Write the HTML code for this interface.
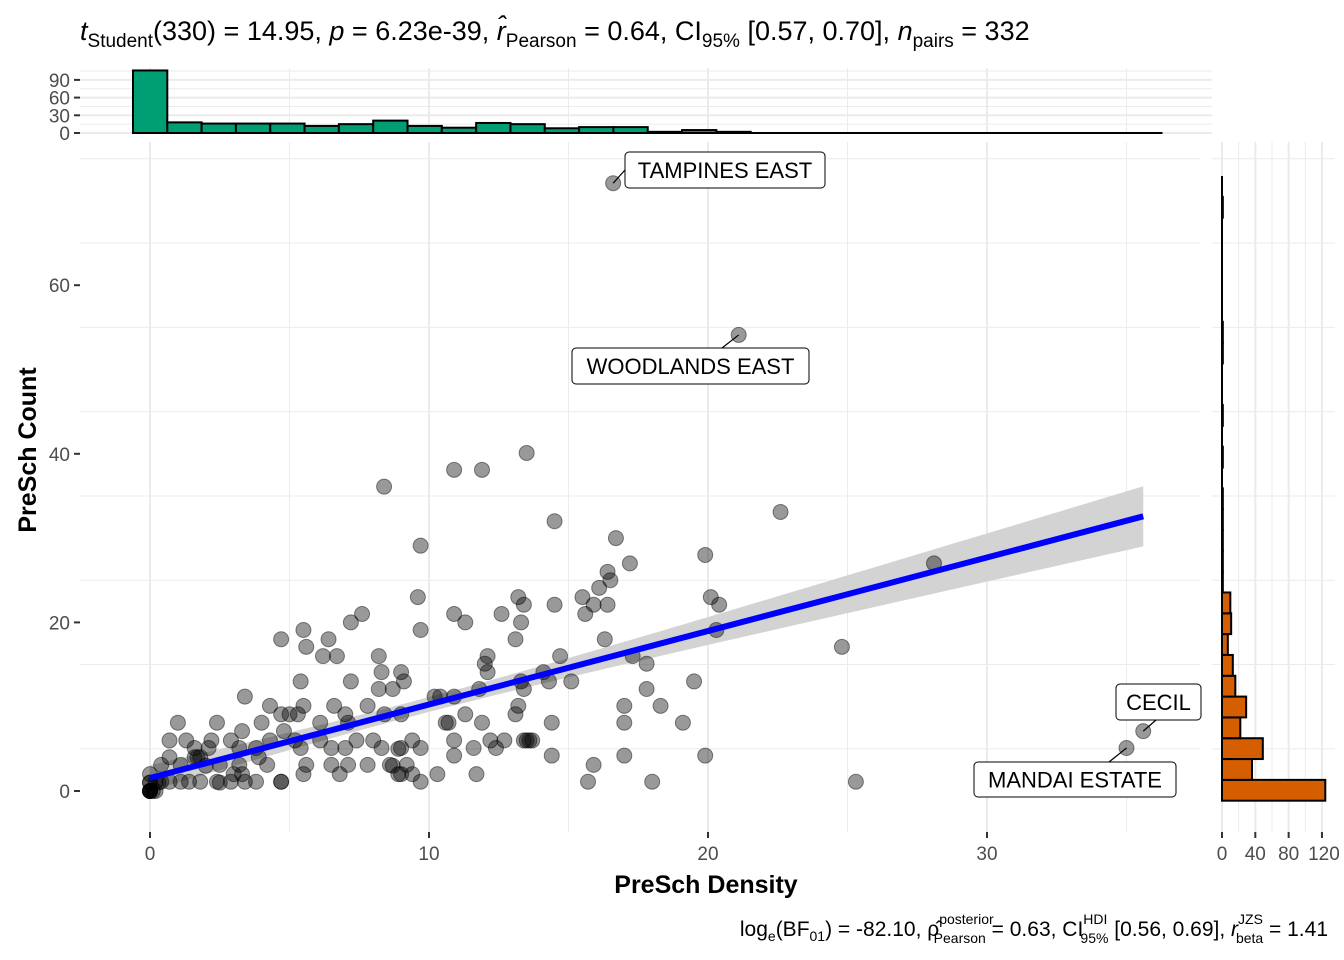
<!DOCTYPE html>
<html><head><meta charset="utf-8">
<style>
body{margin:0;background:#fff;}
svg{display:block;font-family:"Liberation Sans",sans-serif;}
</style></head>
<body>
<svg id="chart" width="1344" height="960" xmlns="http://www.w3.org/2000/svg">
<text x="80" y="40" font-size="27" fill="#000"><tspan font-style="italic">t</tspan><tspan font-size="19" dy="7">Student</tspan><tspan dy="-7">(330) = 14.95, </tspan><tspan font-style="italic">p</tspan><tspan> = 6.23e-39, </tspan><tspan font-style="italic">r̂</tspan><tspan font-size="19" dy="7">Pearson</tspan><tspan dy="-7"> = 0.64, CI</tspan><tspan font-size="19" dy="7">95%</tspan><tspan dy="-7"> [0.57, 0.70], </tspan><tspan font-style="italic">n</tspan><tspan font-size="19" dy="7">pairs</tspan><tspan dy="-7"> = 332</tspan></text>
<g id="grid"></g>
<g id="band"></g>
<g id="pts"></g>
<g id="topHist"></g>
<g id="rightHist"></g>
<g id="axes"></g>
<g id="labels"></g>
<text x="706" y="893" font-size="25" font-weight="bold" text-anchor="middle">PreSch Density</text>
<text transform="translate(36,450) rotate(-90)" font-size="25" font-weight="bold" text-anchor="middle">PreSch Count</text>
<text x="1328" y="936" font-size="21" text-anchor="end">log<tspan font-size="14" dy="5">e</tspan><tspan dy="-5">(BF</tspan><tspan font-size="14" dy="5">01</tspan><tspan dy="-5">) = -82.10, ρ̂</tspan><tspan font-size="14" dy="-12">posterior</tspan><tspan font-size="14" dx="-60" dy="19">Pearson</tspan><tspan dy="-7"> = 0.63, CI</tspan><tspan font-size="14" dy="-12">HDI</tspan><tspan font-size="14" dx="-27" dy="19">95%</tspan><tspan dy="-7"> [0.56, 0.69], </tspan><tspan font-style="italic">r</tspan><tspan font-size="14" dy="-12">JZS</tspan><tspan font-size="14" dx="-27" dy="19">beta</tspan><tspan dy="-7"> = 1.41</tspan></text>
</svg>
<script>
const xs = [8.39,10.9,11.9,13.5,9.7,14.5,16.7,17.2,16.4,16.5,16.1,15.5,15.9,16.4,15.6,14.5,13.2,13.4,12.6,13.3,13.1,19.9,20.1,20.4,20.3,22.6,28.1,24.8,25.3,9.6,9.7,10.9,11.3,7.6,7.2,4.7,5.5,5.6,6.4,6.2,6.7,8.2,8.3,9.0,9.1,7.2,5.4,8.2,8.7,12.0,12.1,12.1,11.8,13.4,13.3,14.7,14.1,14.3,15.1,16.3,17.3,17.8,17.8,18.3,17.0,17.0,19.1,19.5,19.9,18.0,17.0,15.9,15.7,14.4,14.4,13.7,13.5,3.4,4.3,4.7,5.0,5.3,5.5,6.1,6.6,7.0,7.1,7.8,8.4,9.0,10.2,10.4,10.9,11.3,11.9,13.1,13.2,12.7,12.2,12.4,11.6,10.9,10.6,10.7,1.0,2.4,3.3,4.0,0.7,1.3,1.6,2.1,2.2,2.9,3.2,3.8,4.3,4.8,5.2,0.4,0.7,1.1,1.7,2.5,3.2,3.9,4.2,0.2,0.4,0.7,1.1,1.4,1.8,2.4,2.9,3.4,3.8,4.7,5.4,6.1,6.5,7.0,7.4,8.0,8.3,9.0,9.4,9.7,5.6,6.5,7.1,7.8,8.6,9.0,9.2,9.4,9.7,10.3,10.9,11.7,5.5,4.7,6.8,0,0,0,0,0,0,0,0.1,0.2,0,0.3,1.6,1.8,2.0,3.3,8.7,8.9,13.4,13.6,8.9,2.5,3.0,35.0,35.6,21.1,16.6];
const ys = [36.1,38.1,38.1,40.1,29.1,32.0,30.0,27.0,26.0,25.0,24.1,23.0,22.1,22.1,21.0,22.1,23.0,22.1,21.0,20.0,18.0,28.0,23.0,22.1,19.1,33.1,27.0,17.1,1.1,23.0,19.1,21.0,20.0,21.0,20.0,18.0,19.1,17.1,18.0,16.0,16.0,16.0,14.1,14.1,13.0,13.0,13.0,12.1,12.1,15.1,16.0,14.1,12.1,12.1,13.0,16.0,14.1,13.0,13.0,18.0,16.0,15.1,12.1,10.1,10.1,8.1,8.1,13.0,4.2,1.1,4.2,3.1,1.1,4.2,8.1,6.0,6.0,11.2,10.1,9.1,9.1,9.1,10.1,8.1,10.1,9.1,8.1,10.1,9.1,9.1,11.2,11.2,11.2,9.1,8.1,9.1,10.1,6.0,6.0,5.1,5.1,6.0,8.1,8.1,8.1,8.1,7.1,8.1,6.0,6.0,5.1,5.1,6.0,6.0,5.1,5.1,6.0,7.1,6.0,3.1,4.0,3.1,4.0,3.1,3.1,4.0,3.1,1.1,1.1,1.1,1.1,1.1,1.1,1.1,1.1,1.1,1.1,1.1,5.1,6.0,5.1,5.1,6.0,6.0,5.1,5.1,6.0,5.1,3.1,3.1,3.1,3.1,3.1,2.0,3.1,2.0,1.1,2.0,4.2,2.0,2.0,1.1,2.0,0,0,0,0,0,1,1,0,0,2,1,4,4,3,2,3,5,6,6,2,1,2,5.1,7.1,54.1,72.1];
const fitCoef = [1.54, 0.872];
const topBinStart = -0.61, topBinWidth = 1.23;
const topCounts = [106,18,16,16,16,12,15,21,12,9,17,15,8,10,10,2,5,2,0,0,0,0,0,0,0,0,0,0,0,0];
const rightBinStart = -1.15, rightBinWidth = 2.47;
const rightCounts = [124,36,49,22,29,16,13,7,11,10,1,1,1,1,1,0,1,0,1,0,0,1,1,0,0,0,0,0,1,0];
const xTicks = [0,10,20,30];
const yTicks = [0,20,40,60];
const topTicks = [0,30,60,90];
const rightTicks = [0,40,80,120];
const labelNames = ["MANDAI ESTATE","CECIL","WOODLANDS EAST","TAMPINES EAST"];

const NS="http://www.w3.org/2000/svg";
const X = v => 150 + v*27.9;
const Y = v => 791 - v*8.43;
const TY = v => 133 - v*0.59;
const RX = v => 1222 + v*0.833;
function mk(tag, attrs, parent){const e=document.createElementNS(NS,tag);for(const k in attrs)e.setAttribute(k,attrs[k]);parent.appendChild(e);return e;}
const grid=document.getElementById('grid'), band=document.getElementById('band'), pts=document.getElementById('pts'), th=document.getElementById('topHist'), rh=document.getElementById('rightHist'), axes=document.getElementById('axes'), labels=document.getElementById('labels');

for(let v=-5; v<=37; v+=5){const x=X(v); if(x<80||x>1200) continue;
  const l=mk('line',{x1:x,x2:x,y1:142,y2:832,stroke:'#ebebeb','stroke-width':v%10===0?2:1},grid);
  
  }
for(let v=-5; v<=75; v+=10){const y=Y(v); if(y<142||y>832) continue;
  const l=mk('line',{x1:80,x2:1200,y1:y,y2:y,stroke:'#ebebeb','stroke-width':v%20===0?2:1},grid);
  
  }
for(let v=-5; v<=37; v+=5){const x=X(v); if(x<100||x>1212) continue;
  const l=mk('line',{x1:x,x2:x,y1:68,y2:134,stroke:'#ebebeb','stroke-width':v%10===0?2:1},grid);
  
  }
for(let v=0; v<=105; v+=15){const y=TY(v);
  const l=mk('line',{x1:80,x2:1212,y1:y,y2:y,stroke:'#ebebeb','stroke-width':v%30===0?2:1},grid);
  
  }
for(let v=0; v<=120; v+=20){const x=RX(v);
  const l=mk('line',{x1:x,x2:x,y1:142,y2:832,stroke:'#ebebeb','stroke-width':v%40===0?2:1},grid);
  
  }
for(let v=-5; v<=75; v+=10){const y=Y(v); if(y<142||y>832) continue;
  const l=mk('line',{x1:1212,x2:1335,y1:y,y2:y,stroke:'#ebebeb','stroke-width':v%20===0?2:1},grid);
  
  }

const n=xs.length, mx=xs.reduce((a,b)=>a+b,0)/n;
let sxx=0, sse=0; for(let i=0;i<n;i++){sxx+=(xs[i]-mx)**2; sse+=(ys[i]-(fitCoef[0]+fitCoef[1]*xs[i]))**2;}
const s=Math.sqrt(sse/(n-2));
const xmin=Math.min(...xs), xmax=Math.max(...xs);
let up=[], lo=[];
for(let k=0;k<=80;k++){const xv=xmin+(xmax-xmin)*k/80; const f=fitCoef[0]+fitCoef[1]*xv;
  const se=1.3*s*Math.sqrt(1/n+(xv-mx)**2/sxx); up.push(X(xv)+','+Y(f+se)); lo.unshift(X(xv)+','+Y(f-se));}
const bp=mk('polygon',{points:up.concat(lo).join(' '),fill:'#d3d3d3'},band);



for(let i=0;i<n;i++){
  const c=mk('circle',{cx:X(xs[i]),cy:Y(ys[i]),r:7.5,fill:'rgba(0,0,0,0.4)',stroke:'rgba(0,0,0,0.45)','stroke-width':1},pts);
  
  }
const fl=mk('line',{x1:X(xmin),y1:Y(fitCoef[0]+fitCoef[1]*xmin),x2:X(xmax),y2:Y(fitCoef[0]+fitCoef[1]*xmax),stroke:'#0000ff','stroke-width':6},band.parentNode);



// top histogram
const tb=mk('line',{x1:X(topBinStart),x2:X(topBinStart+topCounts.length*topBinWidth),y1:TY(0),y2:TY(0),stroke:'#000','stroke-width':2},th);


topCounts.forEach((c,i)=>{ if(c<=0) return; const x0=X(topBinStart+i*topBinWidth), x1=X(topBinStart+(i+1)*topBinWidth);
  const r=mk('rect',{x:x0,y:TY(c),width:x1-x0,height:TY(0)-TY(c),fill:'#009e73',stroke:'#000','stroke-width':2},th);
  
  });
// right histogram
const rb=mk('line',{x1:RX(0),x2:RX(0),y1:Y(rightBinStart+rightCounts.length*rightBinWidth),y2:Y(rightBinStart),stroke:'#000','stroke-width':2},rh);


rightCounts.forEach((c,i)=>{ if(c<=0) return; const y0=Y(rightBinStart+i*rightBinWidth), y1=Y(rightBinStart+(i+1)*rightBinWidth);
  const r=mk('rect',{x:RX(0),y:y1,width:RX(c)-RX(0),height:y0-y1,fill:'#d55e00',stroke:'#000','stroke-width':2},rh);
  
  });

xTicks.forEach(v=>{mk('line',{x1:X(v),x2:X(v),y1:832,y2:838,stroke:'#333','stroke-width':2},axes);
  const t=mk('text',{x:X(v),y:860,'font-size':19,fill:'#4d4d4d','text-anchor':'middle'},axes);t.textContent=v;
  
  });
yTicks.forEach(v=>{mk('line',{x1:74,x2:80,y1:Y(v),y2:Y(v),stroke:'#333','stroke-width':2},axes);
  const t=mk('text',{x:70,y:Y(v)+7,'font-size':19,fill:'#4d4d4d','text-anchor':'end'},axes);t.textContent=v;
  
  });
topTicks.forEach(v=>{mk('line',{x1:74,x2:80,y1:TY(v),y2:TY(v),stroke:'#333','stroke-width':2},axes);
  const t=mk('text',{x:70,y:TY(v)+7,'font-size':19,fill:'#4d4d4d','text-anchor':'end'},axes);t.textContent=v;
  
  });
rightTicks.forEach((v,i)=>{mk('line',{x1:RX(v),x2:RX(v),y1:832,y2:838,stroke:'#333','stroke-width':2},axes);
  const t=mk('text',{x:RX(v)+(i===3?2:0),y:860,'font-size':19,fill:'#4d4d4d','text-anchor':'middle'},axes);t.textContent=v;
  
  });

const boxes=[[974,762,202,35],[1116,684,85,36],[572,348,237,36],[625,152,200,36]];
labelNames.forEach((name,k)=>{const i=n-4+k; const b=boxes[k];
  const px=X(xs[i]), py=Y(ys[i]);
  const ax=k===0?b[0]+135:k===1?b[0]+40:k===2?b[0]+150:b[0];
  const ay=k===0?b[1]:k===1?b[1]+b[3]:k===2?b[1]:b[1]+b[3]/2;
  mk('line',{x1:px,y1:py,x2:ax,y2:ay,stroke:'#000','stroke-width':1.2},labels);
  const r=mk('rect',{x:b[0],y:b[1],width:b[2],height:b[3],rx:4,fill:'#fff',stroke:'#000','stroke-width':1},labels);
  
  
  const t=mk('text',{x:b[0]+b[2]/2,y:b[1]+b[3]/2+8,'font-size':22,'text-anchor':'middle'},labels);t.textContent=name;
  
  });
</script>
</body></html>
